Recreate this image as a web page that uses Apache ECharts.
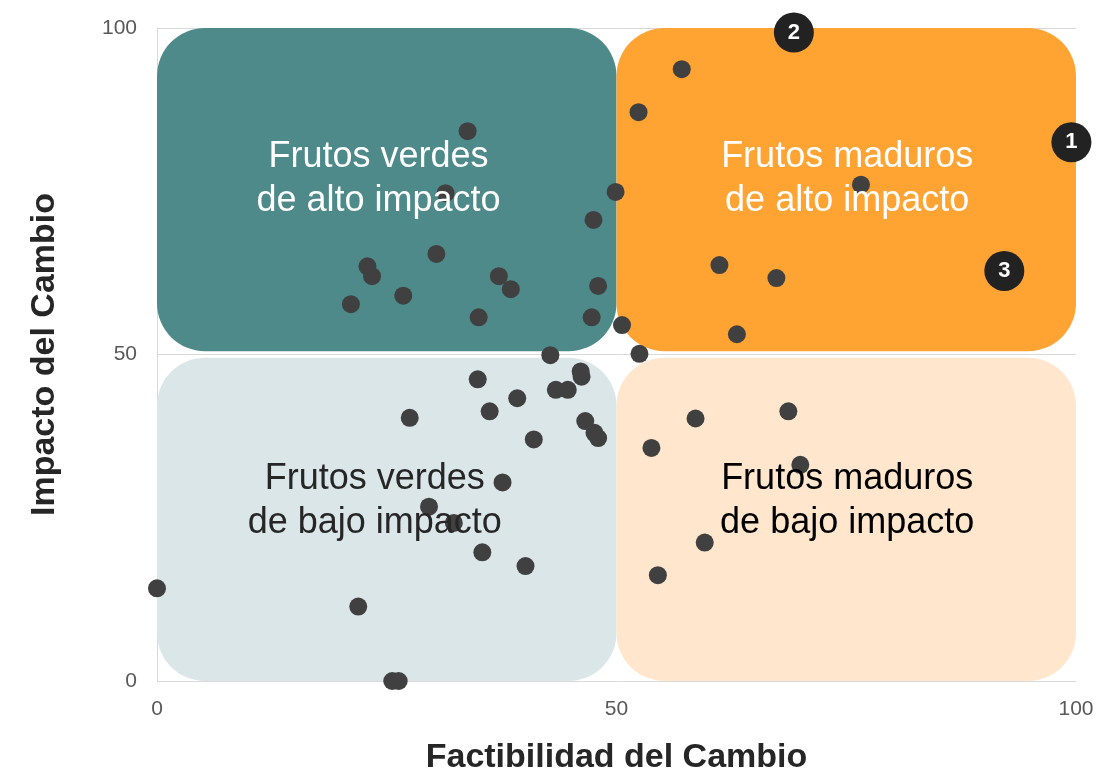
<!DOCTYPE html>
<html>
<head>
<meta charset="utf-8">
<script src="https://cdn.jsdelivr.net/npm/echarts@6/dist/echarts.min.js"></script>
<style>
html,body{margin:0;padding:0;background:#fff;}
#chart{width:1105px;height:784px;}
</style>
</head>
<body>
<div id="chart"></div>
<script>
// ---- data ----
const xTitle = 'Factibilidad del Cambio';
const yTitle = 'Impacto del Cambio';

const quadrantNames = [
  'Frutos verdes\nde alto impacto',
  'Frutos maduros\nde alto impacto',
  'Frutos verdes\nde bajo impacto',
  'Frutos maduros\nde bajo impacto'
];
const quadrantX = [[0, 50], [50, 100], [0, 50], [50, 100]];
const quadrantY = [[50.5, 100], [50.5, 100], [0, 49.5], [0, 49.5]];
const quadrantLabelAt = [[24.1, 76.8], [75.1, 76.8], [23.7, 27.5], [75.1, 27.5]];

const points = [
  [33.8, 84.2], [31.4, 74.7], [30.4, 65.4], [22.9, 63.5], [23.4, 62.0],
  [21.1, 57.7], [26.8, 59.0], [35.0, 55.7], [37.2, 62.0], [38.5, 60.0],
  [47.5, 70.6], [48.0, 60.5], [47.3, 55.7], [49.9, 74.9], [50.6, 54.5],
  [52.5, 50.1], [42.8, 49.9],
  [57.1, 93.7], [52.4, 87.1], [76.6, 76.0], [61.2, 63.7], [67.4, 61.7], [63.1, 53.1],
  [34.9, 46.2], [46.1, 47.4], [46.2, 46.6], [43.4, 44.6], [44.7, 44.6],
  [39.2, 43.3], [36.2, 41.3], [27.5, 40.3], [46.6, 39.8], [47.6, 38.0],
  [48.0, 37.2], [41.0, 37.0], [37.6, 30.4], [29.6, 26.7], [32.3, 24.2],
  [35.4, 19.7], [40.1, 17.6], [0.0, 14.2], [21.9, 11.4], [25.6, 0.0], [26.3, 0.0],
  [68.7, 41.3], [58.6, 40.2], [53.8, 35.7], [70.0, 33.1], [59.6, 21.2], [54.5, 16.2]
];

const highlightNames = ['1', '2', '3'];
const highlightPoints = [[99.5, 82.5], [69.3, 99.3], [92.2, 62.8]];

// ---- styles ----
const quadrantFill = ['#4F8A8B', '#FFA333', '#DBE6E8', '#FFE6CC'];
const quadrantText = ['#ffffff', '#ffffff', '#262626', '#000000'];
const FONT = '"Liberation Sans", Arial, Helvetica, sans-serif';

const quadData = quadrantNames.map((n, i) => [
  quadrantX[i][0], quadrantX[i][1], quadrantY[i][0], quadrantY[i][1],
  quadrantLabelAt[i][0], quadrantLabelAt[i][1]
]);

const chart = echarts.init(document.getElementById('chart'), null, {renderer: 'canvas'});

const option = {
  animation: false,
  backgroundColor: '#ffffff',
  grid: {left: 157, right: 29, top: 28, bottom: 103, containLabel: false},
  xAxis: {
    type: 'value', min: 0, max: 100, interval: 50,
    name: xTitle, nameLocation: 'middle', nameGap: 60,
    nameTextStyle: {fontFamily: FONT, fontSize: 34, fontWeight: 'bold', color: '#262626'},
    axisLine: {show: false},
    axisTick: {show: false},
    splitLine: {show: false},
    axisLabel: {fontFamily: FONT, fontSize: 21, color: '#595959', margin: 18}
  },
  yAxis: {
    type: 'value', min: 0, max: 100, interval: 50,
    name: yTitle, nameLocation: 'middle', nameGap: 95, nameRotate: 90,
    nameTextStyle: {fontFamily: FONT, fontSize: 34, fontWeight: 'bold', color: '#262626'},
    axisLine: {show: true, lineStyle: {color: '#d9d9d9', width: 1}},
    axisTick: {show: false},
    splitLine: {show: true, lineStyle: {color: '#d9d9d9', width: 1}},
    axisLabel: {fontFamily: FONT, fontSize: 21, color: '#595959', margin: 20}
  },
  series: [
    {
      type: 'custom', z: 1, clip: false, silent: true,
      data: quadData,
      encode: {x: [0, 1], y: [2, 3]},
      renderItem: function (params, api) {
        const i = params.dataIndex;
        const p0 = api.coord([api.value(0), api.value(3)]);
        const p1 = api.coord([api.value(1), api.value(2)]);
        return {
          type: 'rect',
          shape: {x: p0[0], y: p0[1], width: p1[0] - p0[0], height: p1[1] - p0[1], r: 48},
          style: {fill: quadrantFill[i]}
        };
      }
    },
    {
      type: 'scatter', z: 2, clip: false,
      symbol: 'circle', symbolSize: 18,
      itemStyle: {color: '#404040', opacity: 1},
      data: points
    },
    {
      type: 'custom', z: 3, clip: false, silent: true,
      data: quadData,
      encode: {x: [4], y: [5]},
      renderItem: function (params, api) {
        const i = params.dataIndex;
        const c = api.coord([api.value(4), api.value(5)]);
        return {
          type: 'text',
          x: c[0], y: c[1],
          style: {
            text: quadrantNames[i],
            fill: quadrantText[i],
            fontFamily: FONT,
            fontSize: 36,
            lineHeight: 44,
            align: 'center',
            verticalAlign: 'middle'
          }
        };
      }
    },
    {
      type: 'scatter', z: 4, clip: false,
      symbol: 'circle', symbolSize: 40,
      itemStyle: {color: '#222222', opacity: 1},
      label: {
        show: true, position: 'inside',
        formatter: p => p.name,
        color: '#ffffff', fontFamily: FONT, fontSize: 22, fontWeight: 'bold'
      },
      data: highlightPoints.map((p, i) => ({name: highlightNames[i], value: p}))
    }
  ]
};
chart.setOption(option);
</script>
</body>
</html>
